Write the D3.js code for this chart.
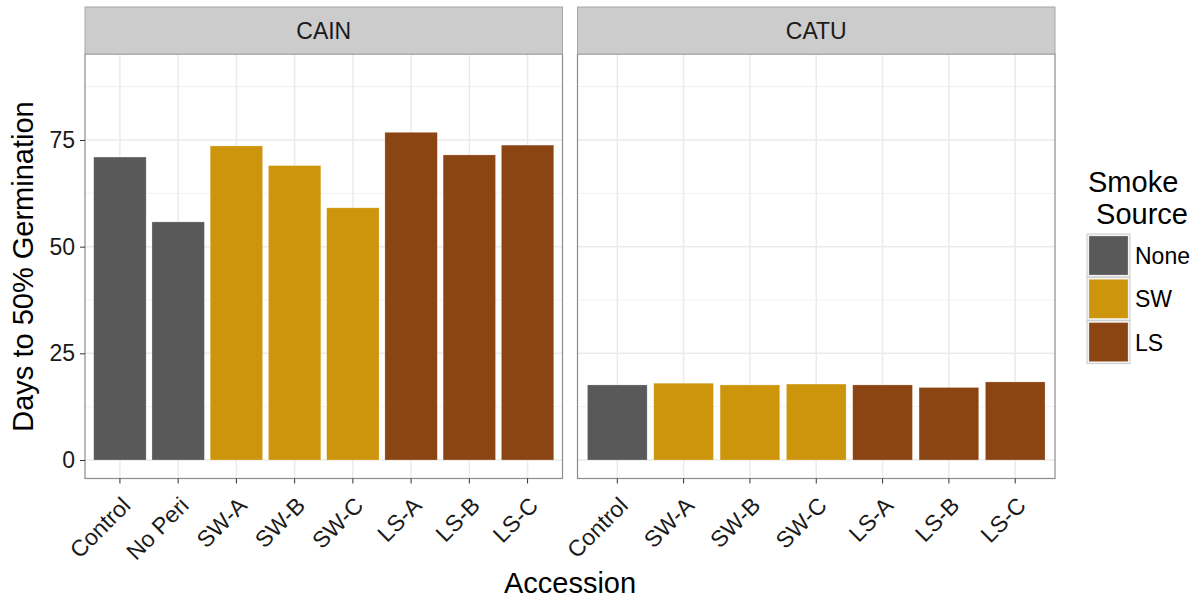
<!DOCTYPE html>
<html><head><meta charset="utf-8">
<script src="https://cdn.jsdelivr.net/npm/d3@7"></script>
<style>body{margin:0;background:#fff}text{font-family:"Liberation Sans",Arial,sans-serif}</style>
</head><body><svg id="c" width="1202" height="600"></svg>
<script>
const panels = ["CAIN", "CATU"];
const cainCategories = ["Control","No Peri","SW-A","SW-B","SW-C","LS-A","LS-B","LS-C"];
const cainValues = [71.0, 55.8, 73.6, 69.0, 59.1, 76.8, 71.5, 73.8];
const cainSource = ["None","None","SW","SW","SW","LS","LS","LS"];
const catuCategories = ["Control","SW-A","SW-B","SW-C","LS-A","LS-B","LS-C"];
const catuValues = [17.6, 18.0, 17.6, 17.8, 17.6, 17.0, 18.3];
const catuSource = ["None","SW","SW","SW","LS","LS","LS"];
const sources = ["None","SW","LS"];
const sourceColors = ["#595959","#CD950C","#8B4513"];
const yTicks = [0,25,50,75];
const yMinor = [12.5,37.5,62.5,87.5];

(function(){
const svg = d3.select("#c");
const color = d3.scaleOrdinal().domain(sources).range(sourceColors);
const pTop = 54, pBot = 478.5;
const y = d3.scaleLinear().domain([-4.33, 95.15]).range([pBot, pTop]);
const panelDefs = [
  {name:panels[0], x0:85, x1:562.5, cats:cainCategories, vals:cainValues, src:cainSource},
  {name:panels[1], x0:577.5, x1:1055, cats:catuCategories, vals:catuValues, src:catuSource}
];
panelDefs.forEach((p,pi) => {
  const x = d3.scalePoint().domain(p.cats).range([p.x0, p.x1]).padding(0.6);
  const step = x.step();
  const g = svg.append("g");
  g.append("rect").attr("x",p.x0).attr("y",pTop).attr("width",p.x1-p.x0).attr("height",pBot-pTop).attr("fill","#fff");
  yMinor.forEach(v => g.append("line").attr("x1",p.x0).attr("x2",p.x1).attr("y1",y(v)).attr("y2",y(v)).attr("stroke","#F2F2F2").attr("stroke-width",1));
  yTicks.forEach(v => g.append("line").attr("x1",p.x0).attr("x2",p.x1).attr("y1",y(v)).attr("y2",y(v)).attr("stroke","#EBEBEB").attr("stroke-width",1.5));
  p.cats.forEach(c => g.append("line").attr("x1",x(c)).attr("x2",x(c)).attr("y1",pTop).attr("y2",pBot).attr("stroke","#EBEBEB").attr("stroke-width",1.5));
  g.selectAll("rect.bar").data(p.cats.map((c,i)=>({c, v:p.vals[i], s:p.src[i]}))).enter().append("rect")
    .attr("class","bar")
    .attr("x",d=>x(d.c)-step*0.45).attr("width",step*0.9)
    .attr("y",d=>y(d.v)).attr("height",d=>y(0)-y(d.v))
    .attr("fill",d=>color(d.s)).attr("stroke","#fff").attr("stroke-opacity",0.4).attr("stroke-width",0.6);
  g.append("rect").attr("x",p.x0).attr("y",pTop).attr("width",p.x1-p.x0).attr("height",pBot-pTop).attr("fill","none").attr("stroke","#8C8C8C").attr("stroke-width",1.2);
  g.append("rect").attr("x",p.x0).attr("y",7).attr("width",p.x1-p.x0).attr("height",pTop-7).attr("fill","#CCCCCC").attr("stroke","#A6A6A6").attr("stroke-width",1);
  g.append("text").attr("x",(p.x0+p.x1)/2).attr("y",39.3).attr("text-anchor","middle").attr("font-size",23).attr("fill","#1A1A1A").text(p.name);
  p.cats.forEach(c => {
    g.append("line").attr("x1",x(c)).attr("x2",x(c)).attr("y1",pBot).attr("y2",pBot+5).attr("stroke","#333");
    g.append("text").attr("transform",`translate(${x(c)+12},${507}) rotate(-45)`)
      .attr("text-anchor","end").attr("font-size",23).attr("fill","#1A1A1A").text(c);
  });
  if (pi===0) {
    const ax = svg.append("g").attr("transform",`translate(${p.x0},0)`).call(d3.axisLeft(y).tickValues(yTicks).tickSize(5).tickPadding(5));
    ax.select(".domain").remove();
    ax.selectAll("line").attr("stroke","#333");
    ax.selectAll("text").attr("font-size",23).attr("fill","#1A1A1A").style("font-family","Liberation Sans, Arial, sans-serif");
  }
});
svg.append("text").attr("transform","translate(33,266.5) rotate(-90)").attr("text-anchor","middle").attr("font-size",29).attr("fill","#000").text("Days to 50% Germination");
svg.append("text").attr("x",570).attr("y",593).attr("text-anchor","middle").attr("font-size",29).attr("fill","#000").text("Accession");
const lg = svg.append("g");
lg.append("text").attr("x",1088).attr("y",192).attr("font-size",29).text("Smoke");
lg.append("text").attr("x",1088).attr("y",224).attr("font-size",29).style("white-space","pre").text(" Source");
sources.forEach((s,i) => {
  const yy = 234 + i*43.3;
  lg.append("rect").attr("x",1087).attr("y",yy).attr("width",43).attr("height",43).attr("fill","#F2F2F2").attr("stroke","#CCCCCC").attr("stroke-width",1);
  lg.append("rect").attr("x",1089).attr("y",yy+2).attr("width",39).attr("height",39).attr("fill",color(s)).attr("stroke","#fff").attr("stroke-opacity",0.4).attr("stroke-width",0.6);
  lg.append("text").attr("x",1135).attr("y",yy+30).attr("font-size",23).text(s);
});
})();
</script></body></html>
